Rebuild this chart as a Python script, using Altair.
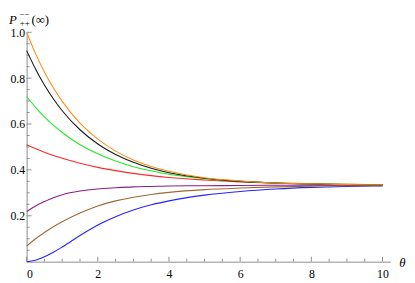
import altair as alt
import pandas as pd

theta = [0, 0.25, 0.5, 0.75, 1, 1.5, 2, 2.5, 3, 3.5, 4, 5, 6, 7, 8, 9, 10]

orange = [1.0, 0.907, 0.827, 0.758, 0.699, 0.604, 0.534, 0.482, 0.443, 0.415, 0.394, 0.366, 0.352, 0.343, 0.339, 0.336, 0.335]
black = [0.92, 0.840, 0.770, 0.710, 0.658, 0.575, 0.513, 0.467, 0.433, 0.407, 0.388, 0.364, 0.350, 0.343, 0.338, 0.336, 0.335]
green = [0.72, 0.673, 0.631, 0.595, 0.563, 0.510, 0.470, 0.439, 0.414, 0.396, 0.381, 0.362, 0.350, 0.343, 0.339, 0.337, 0.335]
red = [0.51, 0.493, 0.477, 0.463, 0.451, 0.429, 0.411, 0.397, 0.385, 0.375, 0.367, 0.356, 0.348, 0.343, 0.340, 0.337, 0.336]
purple = [0.218, 0.243, 0.262, 0.279, 0.292, 0.308, 0.317, 0.322, 0.326, 0.328, 0.330, 0.331, 0.332, 0.333, 0.333, 0.333, 0.333]
brown = [0.068, 0.100, 0.127, 0.152, 0.174, 0.212, 0.243, 0.265, 0.281, 0.293, 0.302, 0.314, 0.321, 0.326, 0.329, 0.331, 0.332]
blue = [0.0, 0.006, 0.021, 0.041, 0.064, 0.114, 0.160, 0.196, 0.225, 0.248, 0.265, 0.290, 0.306, 0.317, 0.324, 0.328, 0.330]

series_names = ["blue", "brown", "purple", "red", "green", "black", "orange"]
series_colors = ["#2424ff", "#9c6a38", "#8a1f8a", "#ff2a2a", "#22e822", "#1a1a1a", "#ff8c1a"]
series_values = [blue, brown, purple, red, green, black, orange]

x_major = [0, 2, 4, 6, 8, 10]
x_minor = [0.5, 1, 1.5, 2.5, 3, 3.5, 4.5, 5, 5.5, 6.5, 7, 7.5, 8.5, 9, 9.5]
y_major = [0.2, 0.4, 0.6, 0.8, 1.0]
y_minor = [0.05, 0.1, 0.15, 0.25, 0.3, 0.35, 0.45, 0.5, 0.55, 0.65, 0.7, 0.75, 0.85, 0.9, 0.95]

rows = []
for name, vals in zip(series_names, series_values):
    for t, v in zip(theta, vals):
        rows.append({"theta": t, "P": v, "s": name})
df = pd.DataFrame(rows)

W, H = 371, 234
FONT = "Liberation Serif"
AX = "#8c8c8c"

xs = alt.Scale(domain=[0, 10.22], nice=False, zero=False)
ys = alt.Scale(domain=[0, 1.0], nice=False)

lines = alt.Chart(df).mark_line(strokeWidth=1.1, interpolate="monotone", clip=False).encode(
    x=alt.X("theta:Q", scale=xs,
            axis=alt.Axis(values=x_major, format="d", ticks=False, tickSize=0, grid=False,
                          domainColor=AX, domainWidth=1, labelFont=FONT, labelFontSize=12,
                          labelColor="black", labelPadding=7, title=None)),
    y=alt.Y("P:Q", scale=ys,
            axis=alt.Axis(values=y_major, format=".1f", ticks=False, tickSize=0, grid=False,
                          domainColor=AX, domainWidth=1, labelFont=FONT, labelFontSize=12,
                          labelColor="black", labelPadding=2, title=None)),
    color=alt.Color("s:N", scale=alt.Scale(domain=series_names, range=series_colors), legend=None),
    order=alt.Order("theta:Q"),
)

xmaj = alt.Chart(pd.DataFrame({"v": x_major})).mark_rule(color=AX, strokeWidth=1).encode(
    x=alt.X("v:Q", scale=xs), y=alt.value(H), y2=alt.value(H - 5))
xmin = alt.Chart(pd.DataFrame({"v": x_minor})).mark_rule(color=AX, strokeWidth=1).encode(
    x=alt.X("v:Q", scale=xs), y=alt.value(H), y2=alt.value(H - 3))
ymaj = alt.Chart(pd.DataFrame({"v": y_major})).mark_rule(color=AX, strokeWidth=1).encode(
    y=alt.Y("v:Q", scale=ys), x=alt.value(0), x2=alt.value(5))
ymin = alt.Chart(pd.DataFrame({"v": y_minor})).mark_rule(color=AX, strokeWidth=1).encode(
    y=alt.Y("v:Q", scale=ys), x=alt.value(0), x2=alt.value(3))

one = pd.DataFrame({"a": [0]})

def label(txt, x, y, size, italic=False, baseline="alphabetic"):
    return alt.Chart(one).mark_text(
        text=txt, font=FONT, fontSize=size, fontStyle="italic" if italic else "normal",
        align="left", baseline=baseline, color="black"
    ).encode(x=alt.value(x), y=alt.value(y))

title_parts = [
    label("P", -18, -8, 13, italic=True),
    label("\u2212\u2212", -7, -16, 9),
    label("++", -7, -6, 9),
    label("(\u221e)", 5, -8, 13),
    label("\u03b8", 380, 235, 13, italic=True, baseline="middle"),
]

chart = alt.layer(xmin, xmaj, ymin, ymaj, lines, *title_parts).properties(
    width=W, height=H,
    autosize=alt.AutoSizeParams(type="none"),
    padding={"left": 19, "top": 22, "right": 17, "bottom": 19},
).configure_view(stroke=None)

chart.save("out.html", embed_options={"renderer": "svg", "actions": False})
